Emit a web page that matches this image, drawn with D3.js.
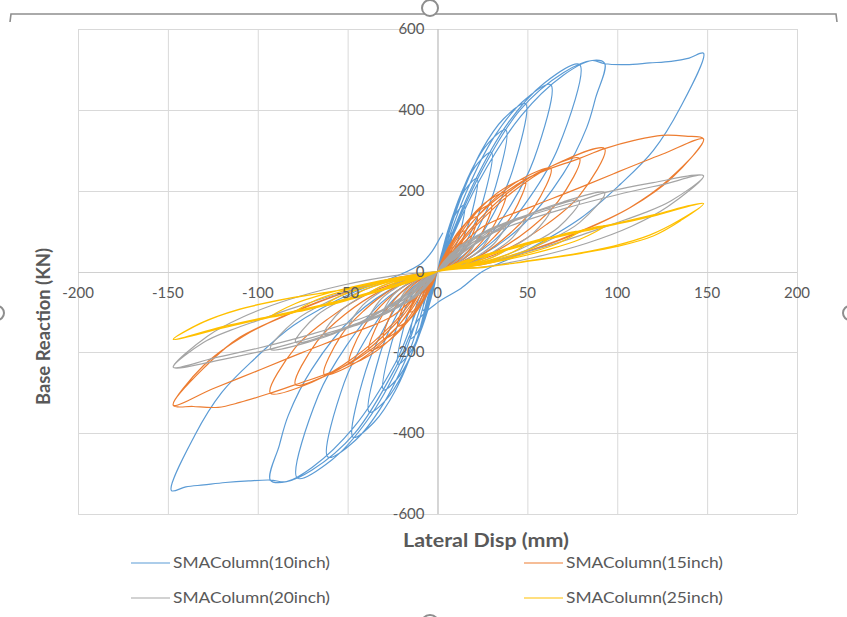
<!DOCTYPE html>
<html><head><meta charset="utf-8">
<script src="https://cdn.jsdelivr.net/npm/d3@7"></script>
<style>body{margin:0;background:#fff}svg{display:block}</style>
</head><body><svg id="c" width="847" height="617"></svg>
<script>
const seriesNames = ["SMAColumn(10inch)","SMAColumn(15inch)","SMAColumn(20inch)","SMAColumn(25inch)"];
const seriesColors = ["#5B9BD5","#ED7D31","#A5A5A5","#FFC000"];
const xTicks = [-200,-150,-100,-50,0,50,100,150,200];
const yTicks = [-600,-400,-200,0,200,400,600];
const xLabel = "Lateral Disp (mm)";
const yLabel = "Base Reaction (KN)";

// SMAColumn(10inch): [lateral disp mm, base reaction kN], cycles in order
const col10 = [
 [[0,0],[2,40],[4,68],[6,86],[8,95],[6.8,57],[5.2,34],[3.2,14],[1.2,4],[0,0],[-2,-41],[-4,-69],[-6,-87],[-8,-96],[-6.8,-58],[-5.2,-34],[-3.2,-14],[-1.2,-4],[0,0]],
 [[0,0],[3.8,69],[7.5,119],[11.3,150],[15,165],[12.8,99],[9.8,59],[6,25],[2.3,7],[0,0],[-3.8,-70],[-7.5,-120],[-11.3,-151],[-15,-166],[-12.8,-100],[-9.8,-60],[-6,-25],[-2.3,-7],[0,0]],
 [[0,0],[5.5,97],[11,166],[16.5,209],[22,230],[18.7,138],[14.3,83],[8.8,35],[3.3,9],[0,0],[-5.5,-97],[-11,-165],[-16.5,-208],[-22,-229],[-18.7,-137],[-14.3,-82],[-8.8,-34],[-3.3,-9],[0,0]],
 [[0,0],[7.5,124],[15,212],[22.5,268],[30,295],[25.5,177],[19.5,106],[12,44],[4.5,12],[0,0],[-7.5,-123],[-15,-210],[-22.5,-266],[-30,-293],[-25.5,-176],[-19.5,-105],[-12,-44],[-4.5,-12],[0,0]],
 [[0,0],[9.5,147],[19,252],[28.5,319],[38,350],[32.3,210],[24.7,126],[15.2,53],[5.7,14],[0,0],[-9.5,-146],[-19,-250],[-28.5,-317],[-38,-348],[-32.3,-209],[-24.7,-125],[-15.2,-52],[-5.7,-14],[0,0]],
 [[0,0],[12.3,174],[24.5,299],[36.8,378],[49,415],[41.7,249],[31.9,149],[19.6,62],[7.4,17],[0,0],[-11.8,-172],[-23.5,-295],[-35.3,-373],[-47,-410],[-40,-246],[-30.6,-148],[-18.8,-62],[-7,-16],[0,0]],
 [[0,0],[15.8,194],[31.5,333],[47.3,420],[63,462],[53.6,277],[41,166],[25.2,69],[9.5,18],[0,0],[-15.3,-193],[-30.5,-330],[-45.8,-418],[-61,-459],[-51.9,-275],[-39.7,-165],[-24.4,-69],[-9.2,-18],[0,0]],
 [[0,0],[19.8,215],[39.5,369],[59.3,466],[79,512],[67.2,307],[51.4,184],[31.6,77],[11.9,20],[0,0],[-19.5,-215],[-39,-368],[-58.5,-465],[-78,-511],[-66.3,-307],[-50.7,-184],[-31.2,-77],[-11.7,-20],[0,0]],
 [[0,0],[23.3,225],[46.5,385],[69.8,485],[86,522],[93,515],[88,430],[83,356],[70,242],[46,109],[20,30],[0,0],[-23.3,-225],[-46.5,-385],[-69.8,-485],[-84,-520],[-93,-516],[-88,-430],[-83,-356],[-70,-242],[-46,-109],[-20,-30],[0,0]],
 [[0,0],[23,235],[46,400],[70,492],[86,522],[93,514],[105,512],[118,516],[130,520],[140,528],[148,540],[135,405],[120,299],[102,217],[80,133],[46,44],[25,0],[13,-42],[0,-77],[-11,-121],[-23,-235],[-46,-400],[-70,-492],[-84,-520],[-93,-516],[-105,-518],[-118,-522],[-130,-528],[-140,-533],[-148,-542],[-135,-405],[-120,-299],[-102,-217],[-80,-133],[-46,-50],[-22,-10],[-9,20],[-3,50],[1,80],[3,96]]
];

// SMAColumn(15inch)
const col15 = [
 [[0,0],[2,24],[4,42],[6,54],[8,60],[6.8,37],[5.2,23],[3.2,10],[1.2,3],[0,0],[-2,-24],[-4,-42],[-6,-54],[-8,-60],[-6.8,-37],[-5.2,-23],[-3.2,-10],[-1.2,-3],[0,0]],
 [[0,0],[3.8,40],[7.5,70],[11.3,90],[15,100],[12.8,62],[9.8,38],[6,17],[2.3,5],[0,0],[-3.8,-40],[-7.5,-70],[-11.3,-90],[-15,-100],[-12.8,-62],[-9.8,-38],[-6,-17],[-2.3,-5],[0,0]],
 [[0,0],[5.5,54],[11,95],[16.5,122],[22,135],[18.7,84],[14.3,51],[8.8,23],[3.3,7],[0,0],[-5.5,-54],[-11,-95],[-16.5,-122],[-22,-135],[-18.7,-84],[-14.3,-51],[-8.8,-23],[-3.3,-7],[0,0]],
 [[0,0],[7.5,66],[15,116],[22.5,149],[30,165],[25.5,102],[19.5,63],[12,28],[4.5,8],[0,0],[-7.5,-66],[-15,-116],[-22.5,-149],[-30,-165],[-25.5,-102],[-19.5,-63],[-12,-28],[-4.5,-8],[0,0]],
 [[0,0],[9.5,78],[19,137],[28.5,176],[38,195],[32.3,121],[24.7,74],[15.2,33],[5.7,10],[0,0],[-9.5,-78],[-19,-137],[-28.5,-176],[-38,-195],[-32.3,-121],[-24.7,-74],[-15.2,-33],[-5.7,-10],[0,0]],
 [[0,0],[12.3,91],[24.5,160],[36.8,205],[49,228],[41.7,141],[31.9,87],[19.6,39],[7.4,11],[0,0],[-12.3,-91],[-24.5,-160],[-36.8,-205],[-49,-228],[-41.7,-141],[-31.9,-87],[-19.6,-39],[-7.4,-11],[0,0]],
 [[0,0],[15.8,102],[31.5,179],[47.3,230],[63,255],[53.6,158],[41,97],[25.2,43],[9.5,13],[0,0],[-15.8,-102],[-31.5,-179],[-47.3,-230],[-63,-255],[-53.6,-158],[-41,-97],[-25.2,-43],[-9.5,-13],[0,0]],
 [[0,0],[19.8,112],[39.5,196],[59.3,252],[79,280],[67.2,174],[51.4,106],[31.6,48],[11.9,14],[0,0],[-19.8,-112],[-39.5,-196],[-59.3,-252],[-79,-280],[-67.2,-174],[-51.4,-106],[-31.6,-48],[-11.9,-14],[0,0]],
 [[0,0],[23.3,122],[46.5,213],[69.8,274],[93,304],[79,188],[60.5,116],[37.2,52],[14,15],[0,0],[-23.3,-122],[-46.5,-213],[-69.8,-274],[-93,-301],[-79,-188],[-60.5,-116],[-37.2,-52],[-14,-15],[0,0]],
 [[0,0],[22,135],[49,228],[79,280],[93,304],[110,325],[125,337],[138,335],[148,328],[128,225],[107,158],[80,101],[50,50],[25,18],[0,0],[-22,-135],[-49,-228],[-79,-280],[-93,-301],[-110,-324],[-122,-336],[-136,-334],[-147,-331],[-128,-230],[-110,-163],[-80,-101],[-50,-50],[-25,-18],[0,0]],
 [[0,0],[10,50],[25,110],[52,160],[75,200],[98,242],[125,290],[148,328],[130,230],[108,160],[82,103],[52,52],[26,18],[0,0],[-10,-50],[-25,-110],[-52,-160],[-75,-200],[-98,-242],[-125,-290],[-147,-331],[-130,-232],[-108,-160],[-82,-103],[-52,-52],[-26,-18],[0,0]]
];

// SMAColumn(20inch)
const col20 = [
 [[0,0],[2,15],[4,27],[6,35],[8,40],[6.8,25],[5.2,15],[3.2,7],[1.2,2],[0,0],[-2,-15],[-4,-27],[-6,-35],[-8,-40],[-6.8,-25],[-5.2,-15],[-3.2,-7],[-1.2,-2],[0,0]],
 [[0,0],[3.8,25],[7.5,44],[11.3,57],[15,65],[12.8,40],[9.8,25],[6,11],[2.3,3],[0,0],[-3.8,-25],[-7.5,-44],[-11.3,-57],[-15,-65],[-12.8,-40],[-9.8,-25],[-6,-11],[-2.3,-3],[0,0]],
 [[0,0],[5.5,32],[11,58],[16.5,75],[22,85],[18.7,53],[14.3,32],[8.8,14],[3.3,4],[0,0],[-5.5,-32],[-11,-58],[-16.5,-75],[-22,-85],[-18.7,-53],[-14.3,-32],[-8.8,-14],[-3.3,-4],[0,0]],
 [[0,0],[7.5,39],[15,69],[22.5,90],[30,102],[25.5,63],[19.5,39],[12,17],[4.5,5],[0,0],[-7.5,-39],[-15,-69],[-22.5,-90],[-30,-102],[-25.5,-63],[-19.5,-39],[-12,-17],[-4.5,-5],[0,0]],
 [[0,0],[9.5,45],[19,80],[28.5,104],[38,118],[32.3,73],[24.7,45],[15.2,20],[5.7,6],[0,0],[-9.5,-45],[-19,-80],[-28.5,-104],[-38,-118],[-32.3,-73],[-24.7,-45],[-15.2,-20],[-5.7,-6],[0,0]],
 [[0,0],[12.3,51],[24.5,92],[36.8,119],[49,135],[41.7,84],[31.9,51],[19.6,23],[7.4,7],[0,0],[-12.3,-51],[-24.5,-92],[-36.8,-119],[-49,-135],[-41.7,-84],[-31.9,-51],[-19.6,-23],[-7.4,-7],[0,0]],
 [[0,0],[15.8,59],[31.5,105],[47.3,136],[63,155],[53.6,96],[41,59],[25.2,26],[9.5,8],[0,0],[-15.8,-59],[-31.5,-105],[-47.3,-136],[-63,-155],[-53.6,-96],[-41,-59],[-25.2,-26],[-9.5,-8],[0,0]],
 [[0,0],[19.8,67],[39.5,119],[59.3,154],[79,175],[67.2,109],[51.4,67],[31.6,30],[11.9,9],[0,0],[-19.8,-67],[-39.5,-119],[-59.3,-154],[-79,-175],[-67.2,-109],[-51.4,-67],[-31.6,-30],[-11.9,-9],[0,0]],
 [[0,0],[23.3,74],[46.5,133],[69.8,172],[93,195],[79,121],[60.5,74],[37.2,33],[14,10],[0,0],[-23.3,-74],[-46.5,-133],[-69.8,-172],[-93,-192],[-79,-121],[-60.5,-74],[-37.2,-33],[-14,-10],[0,0]],
 [[0,0],[22,85],[49,135],[79,175],[93,195],[120,220],[148,237],[130,175],[115,145],[98,118],[80,90],[55,55],[25,20],[0,0],[-22,-85],[-49,-135],[-79,-175],[-93,-192],[-120,-218],[-147,-237],[-130,-175],[-115,-145],[-98,-118],[-80,-90],[-55,-55],[-25,-20],[0,0]],
 [[0,0],[15,60],[40,112],[70,155],[100,190],[125,215],[148,237],[128,160],[108,112],[83,70],[53,34],[24,10],[0,0],[-15,-60],[-40,-112],[-70,-155],[-100,-190],[-125,-215],[-147,-237],[-128,-160],[-108,-112],[-83,-70],[-53,-34],[-24,-10],[0,0]]
];

// SMAColumn(25inch)
const col25 = [
 [[0,0],[2,4.2],[4,7.8],[6,11.2],[8,14],[6.8,9.8],[5.2,6.6],[3.2,3.5],[1.2,1.1],[0,0],[-2,-4.2],[-4,-7.8],[-6,-11.2],[-8,-14],[-6.8,-9.8],[-5.2,-6.6],[-3.2,-3.5],[-1.2,-1.1],[0,0]],
 [[0,0],[3.8,7.5],[7.5,14],[11.3,20],[15,25],[12.8,17.5],[9.8,11.8],[6,6.3],[2.3,2],[0,0],[-3.8,-7.5],[-7.5,-14],[-11.3,-20],[-15,-25],[-12.8,-17.5],[-9.8,-11.8],[-6,-6.3],[-2.3,-2],[0,0]],
 [[0,0],[5.5,10.5],[11,19.6],[16.5,28],[22,35],[18.7,24.5],[14.3,16.5],[8.8,8.8],[3.3,2.8],[0,0],[-5.5,-10.5],[-11,-19.6],[-16.5,-28],[-22,-35],[-18.7,-24.5],[-14.3,-16.5],[-8.8,-8.8],[-3.3,-2.8],[0,0]],
 [[0,0],[7.5,13.5],[15,25.2],[22.5,36],[30,45],[25.5,31.5],[19.5,21.2],[12,11.3],[4.5,3.6],[0,0],[-7.5,-13.5],[-15,-25.2],[-22.5,-36],[-30,-45],[-25.5,-31.5],[-19.5,-21.2],[-12,-11.3],[-4.5,-3.6],[0,0]],
 [[0,0],[9.5,16.5],[19,30.8],[28.5,44],[38,55],[32.3,38.5],[24.7,25.9],[15.2,13.8],[5.7,4.4],[0,0],[-9.5,-16.5],[-19,-30.8],[-28.5,-44],[-38,-55],[-32.3,-38.5],[-24.7,-25.9],[-15.2,-13.8],[-5.7,-4.4],[0,0]],
 [[0,0],[12.3,20.4],[24.5,38.1],[36.8,54.4],[49,68],[41.7,47.6],[31.9,32],[19.6,17],[7.4,5.4],[0,0],[-12.3,-20.4],[-24.5,-38.1],[-36.8,-54.4],[-49,-68],[-41.7,-47.6],[-31.9,-32],[-19.6,-17],[-7.4,-5.4],[0,0]],
 [[0,0],[15.8,25.5],[31.5,47.6],[47.3,68],[63,85],[53.6,59.5],[41,40],[25.2,21.3],[9.5,6.8],[0,0],[-15.8,-25.5],[-31.5,-47.6],[-47.3,-68],[-63,-85],[-53.6,-59.5],[-41,-40],[-25.2,-21.3],[-9.5,-6.8],[0,0]],
 [[0,0],[19.8,30],[39.5,56],[59.3,80],[79,100],[67.2,70],[51.4,47],[31.6,25],[11.9,8],[0,0],[-19.8,-30],[-39.5,-56],[-59.3,-80],[-79,-100],[-67.2,-70],[-51.4,-47],[-31.6,-25],[-11.9,-8],[0,0]],
 [[0,0],[23.3,33.9],[46.5,63.3],[69.8,90.4],[93,113],[79,79],[60.5,53],[37.2,28],[14,9],[0,0],[-23.3,-33.9],[-46.5,-63.3],[-69.8,-90.4],[-93,-113],[-79,-79],[-60.5,-53],[-37.2,-28],[-14,-9],[0,0]],
 [[0,0],[22,35],[49,68],[79,100],[100,120],[120,140],[148,168],[135,125],[120,88],[100,62],[80,45],[55,28],[28,12],[0,0],[-22,-35],[-49,-68],[-79,-100],[-100,-120],[-120,-140],[-147,-168],[-130,-125],[-110,-93],[-80,-64],[-52,-45],[-27,-22],[0,0]],
 [[0,0],[30,42],[60,78],[90,108],[120,137],[148,168],[135,128],[118,90],[98,63],[78,45],[53,28],[27,11],[0,0],[-30,-42],[-60,-78],[-90,-108],[-120,-137],[-147,-168],[-132,-128],[-112,-96],[-82,-66],[-54,-46],[-28,-22],[0,0]]
];

const allSeries = [col10, col15, col20, col25];

const svg = d3.select("#c");
const x = d3.scaleLinear().domain([-200,200]).range([78,797]);
const y = d3.scaleLinear().domain([-600,600]).range([514,29]);
const FONT = "Lato,'Liberation Sans',Arial,sans-serif";
const TXT = "#595959";

// selection frame (Excel chart selected)
const frame = svg.append("g").attr("fill","none").attr("stroke","#8e8e8e").attr("stroke-width",1.6);
frame.append("path").attr("d","M10,22 L11,14 L836,14 L837,22");

// gridlines
const grid = svg.append("g").attr("stroke","#d9d9d9").attr("stroke-width",1);
grid.selectAll("line.v").data(xTicks).join("line")
  .attr("x1",d=>x(d)+0.5).attr("x2",d=>x(d)+0.5).attr("y1",y(600)).attr("y2",y(-600));
grid.selectAll("line.h").data(yTicks).join("line")
  .attr("y1",d=>Math.round(y(d))+0.5).attr("y2",d=>Math.round(y(d))+0.5).attr("x1",x(-200)).attr("x2",x(200));
// axis lines
svg.append("line").attr("x1",x(0)+0.5).attr("x2",x(0)+0.5).attr("y1",y(600)).attr("y2",y(-600)).attr("stroke","#bfbfbf");
svg.append("line").attr("y1",Math.round(y(0))+0.5).attr("y2",Math.round(y(0))+0.5).attr("x1",x(-200)).attr("x2",x(200)).attr("stroke","#d0d0d0");

// data lines
const line = d3.line().x(d=>x(d[0])).y(d=>y(d[1])).curve(d3.curveCatmullRom.alpha(0.5));
const gLines = svg.append("g").attr("fill","none");
allSeries.forEach((cycles,i)=>{
  gLines.append("path").datum(d3.merge(cycles)).attr("d",line)
    .attr("stroke",seriesColors[i]).attr("stroke-width",1.2).attr("stroke-linejoin","round");
});

// tick labels
const xt = svg.append("g").attr("font-family",FONT).attr("font-size",15).attr("fill",TXT).attr("text-anchor","middle");
xt.selectAll("text").data(xTicks).join("text").attr("x",d=>x(d)).attr("y",y(0)+26).text(d=>d);
const yt = svg.append("g").attr("font-family",FONT).attr("font-size",15).attr("fill",TXT).attr("text-anchor","end");
yt.selectAll("text").data(yTicks).join("text").attr("x",x(0)-13).attr("y",d=>y(d)+5).text(d=>d);

// axis titles
svg.append("text").attr("x",403).attr("y",547).attr("font-family",FONT)
  .attr("font-weight","bold").attr("font-size",18).attr("fill",TXT)
  .attr("textLength",166).attr("lengthAdjust","spacingAndGlyphs").text(xLabel);
svg.append("text").attr("transform","translate(50,405) rotate(-90)").attr("font-family",FONT)
  .attr("font-weight","bold").attr("font-size",18).attr("fill",TXT)
  .attr("textLength",157).attr("lengthAdjust","spacingAndGlyphs").text(yLabel);

// legend
const legPos = [[131,563],[524,563],[131,598],[524,598]];
const leg = svg.append("g").attr("font-family",FONT).attr("font-size",15).attr("fill",TXT);
seriesNames.forEach((n,i)=>{
  const [lx,ly] = legPos[i];
  leg.append("line").attr("x1",lx).attr("x2",lx+39).attr("y1",ly).attr("y2",ly).attr("stroke",seriesColors[i]).attr("stroke-width",1.2);
  leg.append("text").attr("x",lx+42).attr("y",ly+5).attr("textLength",157).attr("lengthAdjust","spacingAndGlyphs").text(n);
});

// selection handles
const hnd = svg.append("g").attr("fill","#fff").attr("stroke","#8e8e8e").attr("stroke-width",2);
hnd.append("circle").attr("cx",430).attr("cy",8).attr("r",8);
hnd.append("circle").attr("cx",-3).attr("cy",313).attr("r",7);
hnd.append("circle").attr("cx",850).attr("cy",313).attr("r",7);
hnd.append("circle").attr("cx",430).attr("cy",624).attr("r",9);
</script></body></html>
